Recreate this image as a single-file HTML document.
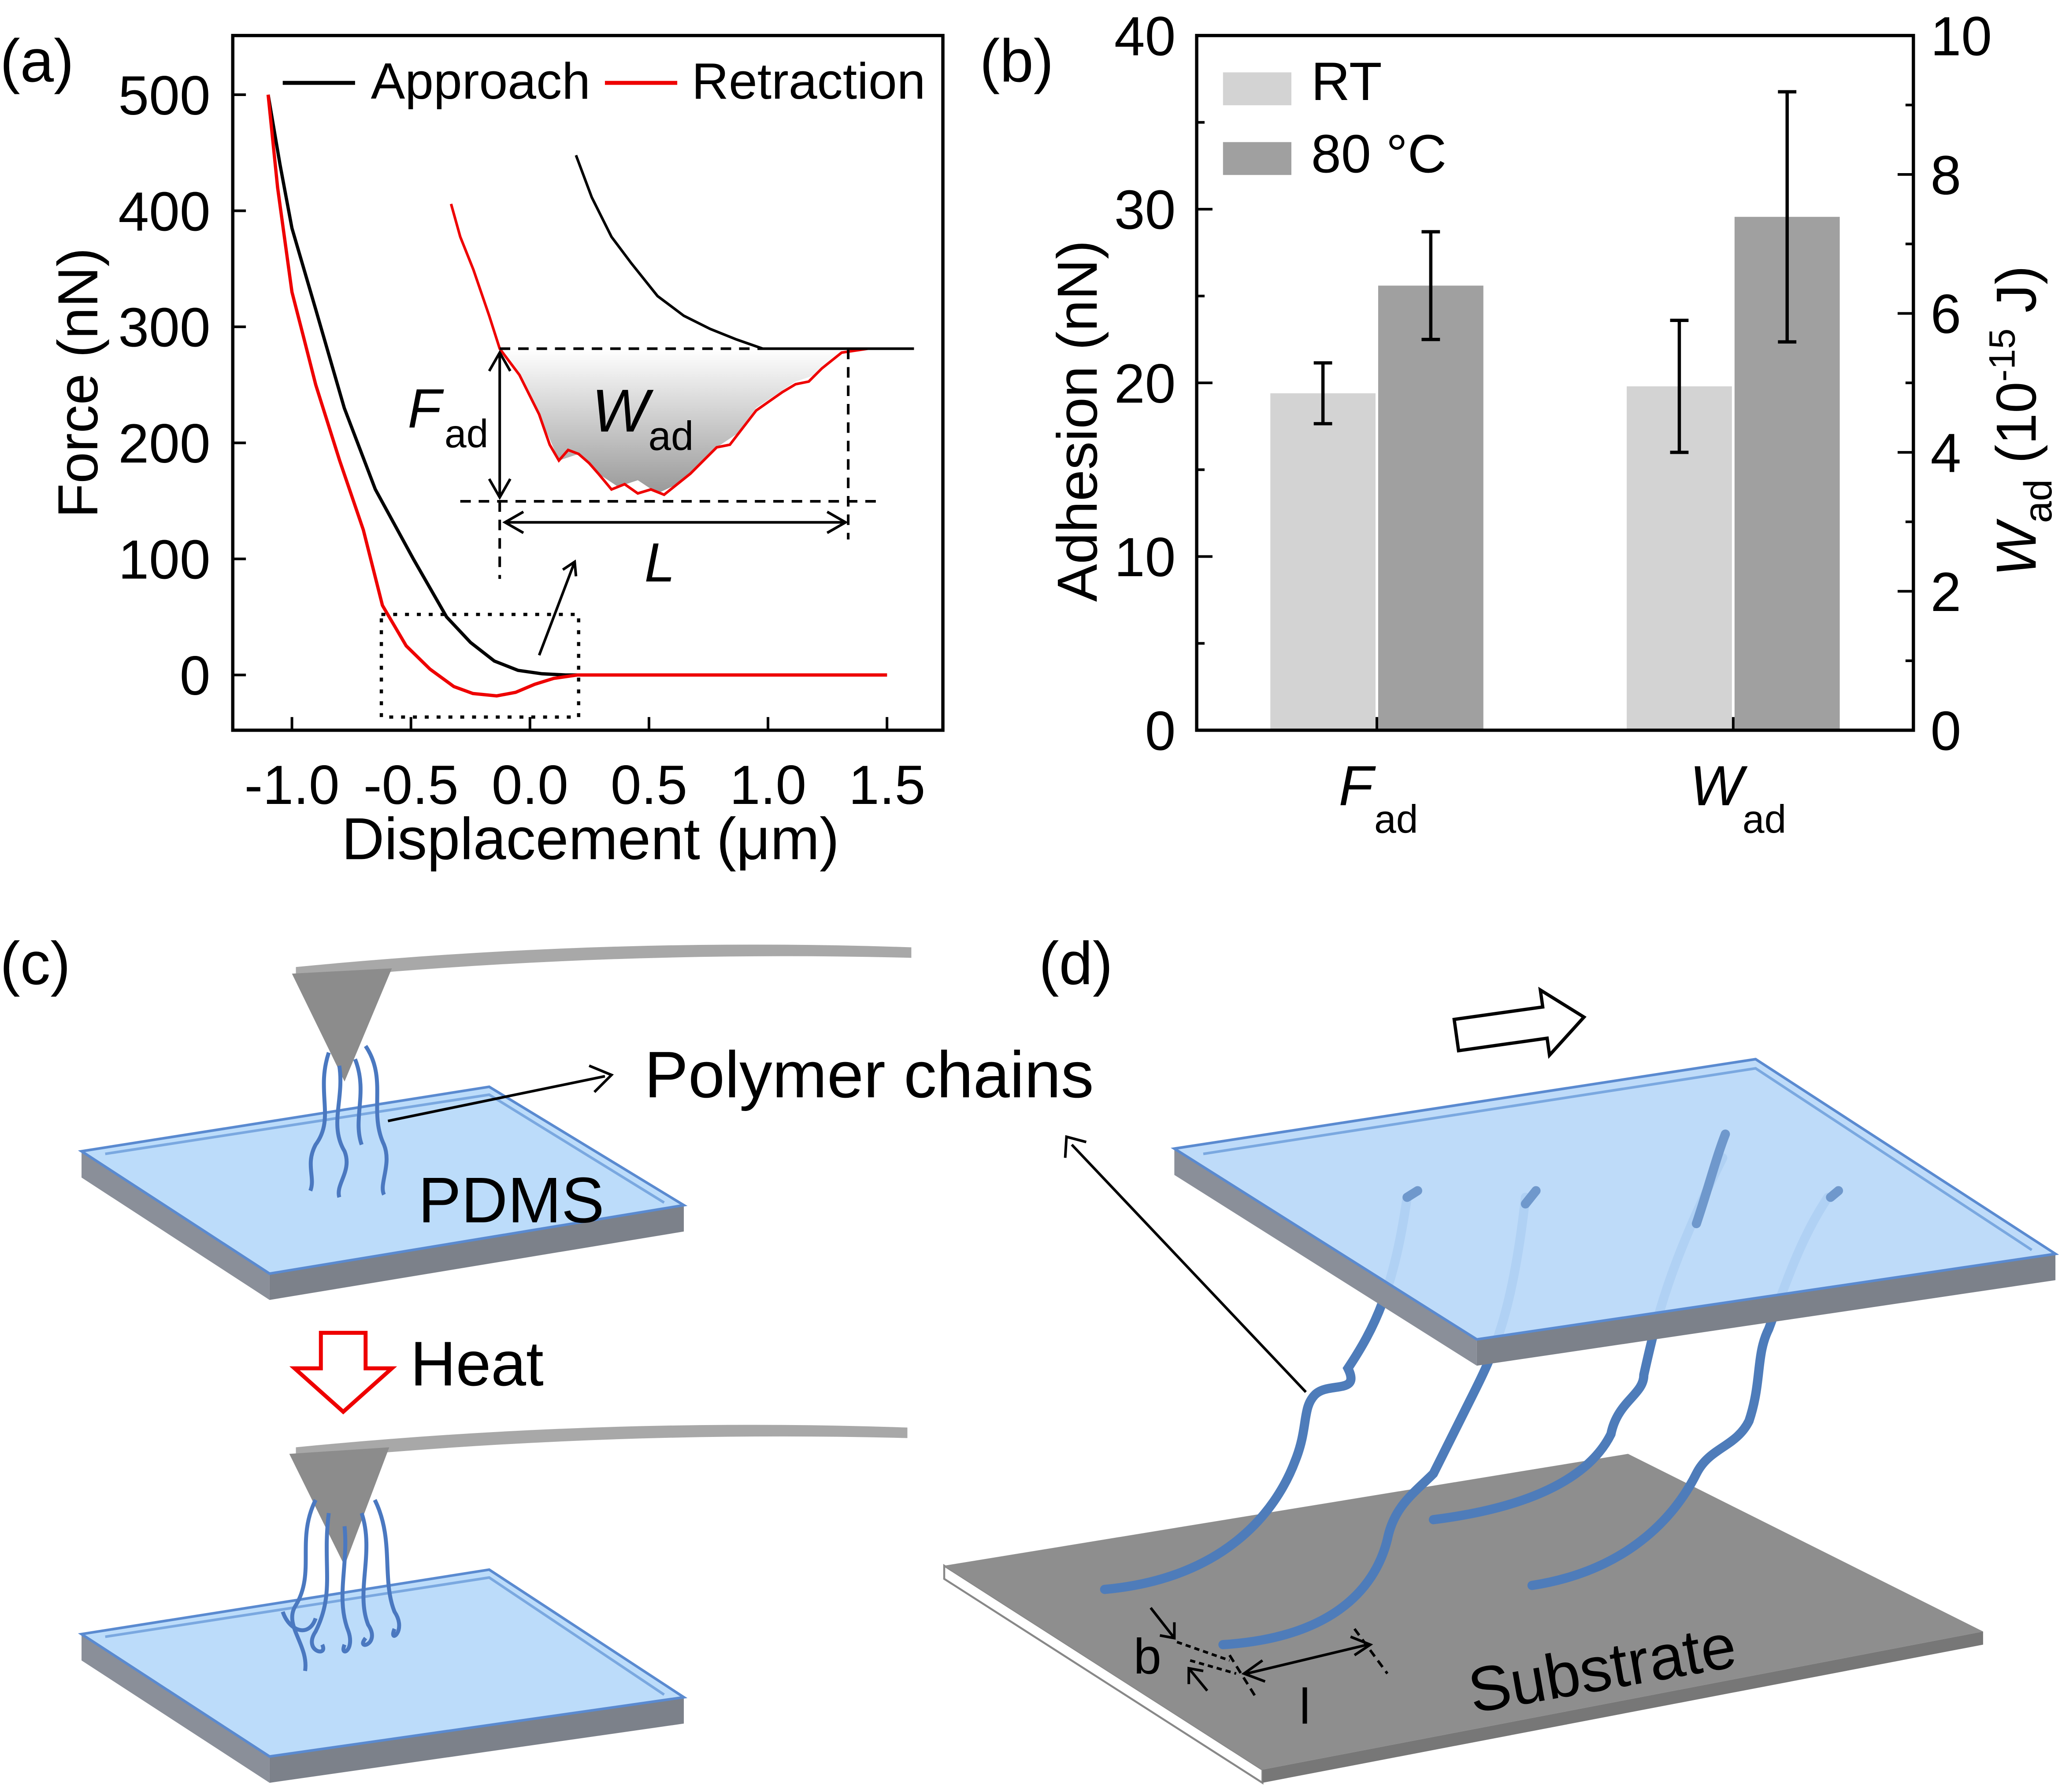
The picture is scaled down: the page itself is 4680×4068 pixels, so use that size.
<!DOCTYPE html>
<html><head><meta charset="utf-8"><style>
html,body{margin:0;padding:0;background:#fff;}
svg{display:block;}
text{font-family:"Liberation Sans",sans-serif;fill:#000;}
</style></head><body>
<svg id="fig" width="4680" height="4068" viewBox="0 0 1568 1362" preserveAspectRatio="none" xmlns="http://www.w3.org/2000/svg">
<rect width="1568" height="1362" fill="#fff"/>
<!-- Panel a -->
<g id="pa">
<text x="0" y="62" font-size="46">(a)</text>
<rect x="177" y="27" width="540" height="528" fill="none" stroke="#000" stroke-width="2.5"/>
<text transform="translate(74,291) rotate(-90)" font-size="43" text-anchor="middle">Force (nN)</text>
<text x="449" y="653" font-size="45" text-anchor="middle">Displacement (μm)</text>
<g id="axa"></g>
<path id="appr" fill="none" stroke="#000" stroke-width="2.5"/>
<path id="retr" fill="none" stroke="#e00" stroke-width="2.5"/>
<line x1="215" y1="63" x2="270" y2="63" stroke="#000" stroke-width="3"/>
<text x="282" y="75" font-size="39">Approach</text>
<line x1="460" y1="63" x2="515" y2="63" stroke="#e00" stroke-width="3"/>
<text x="526" y="75" font-size="39">Retraction</text>
<rect x="290" y="467" width="150" height="78" fill="none" stroke="#000" stroke-width="2.5" stroke-dasharray="3,6"/>
<line x1="410" y1="498" x2="437" y2="427" stroke="#000" stroke-width="2"/>
<path d="M428,433 L437,427 L438,438" fill="none" stroke="#000" stroke-width="2"/>
<defs><linearGradient id="wg" x1="0" y1="0" x2="0" y2="1"><stop offset="0" stop-color="#fff"/><stop offset="1" stop-color="#999"/></linearGradient></defs>
<path d="M380,265 L395,285 L410,315 L425,350 L440,345 L455,360 L470,370 L485,365 L500,375 L515,368 L530,355 L545,340 L560,330 L575,310 L590,300 L605,290 L620,285 L635,270 L645,265 Z" fill="url(#wg)"/>
<path d="M343,155 L350,180 L360,205 L372,240 L380,265 L395,285 L410,315 L418,338 L425,350 L432,342 L440,345 L448,352 L455,360 L465,372 L475,368 L485,375 L495,372 L505,376 L515,368 L525,360 L535,350 L545,340 L555,338 L565,325 L575,312 L585,305 L595,298 L605,292 L615,290 L625,280 L640,268 L660,265 L695,265" fill="none" stroke="#e00" stroke-width="2"/>
<path d="M438,118 L450,150 L465,180 L480,200 L500,225 L520,240 L540,250 L560,258 L580,265 L695,265" fill="none" stroke="#000" stroke-width="2"/>
<line x1="380" y1="265" x2="645" y2="265" stroke="#000" stroke-width="2" stroke-dasharray="8,6"/>
<line x1="350" y1="381" x2="668" y2="381" stroke="#000" stroke-width="2" stroke-dasharray="8,6"/>
<line x1="645" y1="265" x2="645" y2="410" stroke="#000" stroke-width="2" stroke-dasharray="8,6"/>
<line x1="380" y1="381" x2="380" y2="440" stroke="#000" stroke-width="2" stroke-dasharray="8,6"/>
<line x1="380" y1="270" x2="380" y2="376" stroke="#000" stroke-width="2"/>
<path d="M372,282 L380,268 L388,282 M372,364 L380,378 L388,364" fill="none" stroke="#000" stroke-width="2"/>
<line x1="385" y1="397" x2="642" y2="397" stroke="#000" stroke-width="2"/>
<path d="M398,389 L384,397 L398,405 M629,389 L643,397 L629,405" fill="none" stroke="#000" stroke-width="2"/>
<text x="310" y="325" font-size="42" font-style="italic">F</text><text x="338" y="340" font-size="30">ad</text>
<text x="450" y="328" font-size="46" font-style="italic">W</text><text x="493" y="342" font-size="31">ad</text>
<text x="490" y="442" font-size="42" font-style="italic">L</text>
</g>
<!-- Panel b -->
<g id="pb">
<text x="745" y="62" font-size="46">(b)</text>
<g id="bars"></g>
<g id="axb"></g>
<rect x="910" y="27" width="545" height="528" fill="none" stroke="#000" stroke-width="2.5"/>
<text transform="translate(834,320) rotate(-90)" font-size="43" text-anchor="middle">Adhesion (nN)</text>
<text transform="translate(1548,320) rotate(-90)" font-size="43" text-anchor="middle"><tspan font-style="italic">W</tspan><tspan font-size="30" dy="12">ad</tspan><tspan dy="-12"> (10</tspan><tspan font-size="28" dy="-16">-15</tspan><tspan dy="16"> J)</tspan></text>
<rect x="930" y="55" width="52" height="25" fill="#d3d3d3"/>
<text x="997" y="76" font-size="41">RT</text>
<rect x="930" y="108" width="52" height="25" fill="#a0a0a0"/>
<text x="997" y="131" font-size="41">80 °C</text>
<text x="1018" y="612" font-size="43" font-style="italic">F</text><text x="1045" y="633" font-size="30">ad</text>
<text x="1285" y="612" font-size="43" font-style="italic">W</text><text x="1325" y="633" font-size="30">ad</text>
</g>
<!-- Panel c -->
<g>
<text x="0" y="748" font-size="46">(c)</text>
<g>
<polygon points="62,875 205,968 205,988 62,895" fill="#8a8f99"/>
<polygon points="205,968 520,916 520,936 205,988" fill="#7c818a"/>
<polygon points="62,875 372,826 520,916 205,968" fill="#bcdcfa" stroke="#5a8ad0" stroke-width="2"/>
<polyline points="80,877 372,832 505,914" fill="none" stroke="#7aa8e0" stroke-width="2"/>
</g>
<g>
<polygon points="62,1242 205,1335 205,1355 62,1262" fill="#8a8f99"/>
<polygon points="205,1335 520,1290 520,1310 205,1355" fill="#7c818a"/>
<polygon points="62,1242 372,1193 520,1290 205,1335" fill="#bcdcfa" stroke="#5a8ad0" stroke-width="2"/>
<polyline points="80,1244 372,1199 505,1288" fill="none" stroke="#7aa8e0" stroke-width="2"/>
</g>
<path d="M225,735 Q460,712 693,720 L693,728 Q460,722 225,745 Z" fill="#a8a8a8"/>
<polygon points="222,740 298,736 262,822" fill="#8c8c8c"/>
<path d="M225,1100 Q460,1077 690,1085 L690,1093 Q460,1087 225,1110 Z" fill="#a8a8a8"/>
<polygon points="220,1105 296,1100 262,1190" fill="#8c8c8c"/>
<g fill="none" stroke="#4a78c0" stroke-width="3">
<path d="M250,800 C240,830 255,850 240,870 C232,885 240,895 236,905"/>
<path d="M258,810 C262,835 250,855 262,875 C268,890 255,900 258,910"/>
<path d="M270,805 C280,830 268,850 275,870"/>
<path d="M278,795 C295,820 280,845 292,870 C298,885 288,900 292,908"/>
</g>
<g fill="none" stroke="#4a78c0" stroke-width="3">
<path d="M240,1140 C225,1170 240,1195 225,1220 C215,1235 235,1250 232,1270"/>
<path d="M250,1150 C245,1190 255,1210 240,1240 C230,1255 250,1260 245,1250"/>
<path d="M262,1160 C265,1190 255,1215 265,1240 C270,1255 258,1260 262,1250"/>
<path d="M275,1150 C285,1180 270,1210 280,1235 C290,1250 270,1255 278,1245"/>
<path d="M285,1140 C300,1170 290,1200 300,1225 C310,1240 295,1250 300,1238"/>
<path d="M215,1225 C220,1240 235,1245 240,1230"/>
</g>
<line x1="295" y1="852" x2="460" y2="818" stroke="#000" stroke-width="2"/>
<path d="M448,810 L465,817 L452,830" fill="none" stroke="#000" stroke-width="2"/>
<text x="490" y="834" font-size="50">Polymer chains</text>
<text x="318" y="929" font-size="49">PDMS</text>
<polygon points="244,1013 278,1013 278,1040 298,1040 261,1073 224,1040 244,1040" fill="#fff" stroke="#e00" stroke-width="3"/>
<text x="312" y="1053" font-size="48">Heat</text>
</g>
<!-- Panel d -->
<g>
<text x="790" y="748" font-size="46">(d)</text>
<g>
<polygon points="718,1190 960,1345 960,1355 718,1200" fill="#fff" stroke="#888" stroke-width="1.5"/>
<polygon points="960,1345 1508,1240 1508,1250 960,1355" fill="#777"/>
<polygon points="718,1190 1238,1105 1508,1240 960,1345" fill="#8e8e8e"/>
</g>
<g fill="none" stroke="#4e7cba" stroke-width="7" stroke-linecap="round">
<path d="M840,1208 C930,1200 970,1150 985,1110 C995,1085 990,1070 1000,1060 C1010,1050 1035,1060 1025,1040 C1045,1010 1060,980 1070,910"/>
<path d="M930,1250 C1010,1245 1045,1210 1055,1170 C1060,1145 1075,1135 1090,1120 C1100,1100 1110,1080 1120,1060 C1135,1030 1150,1000 1160,910"/>
<path d="M1090,1155 C1170,1145 1210,1120 1225,1090 C1230,1065 1250,1060 1250,1045 C1260,1000 1270,960 1310,880"/>
<path d="M1165,1205 C1230,1195 1270,1160 1290,1120 C1300,1100 1320,1100 1330,1080 C1340,1050 1335,1030 1345,1010 C1360,970 1370,940 1390,910"/>
</g>
<g>
<polygon points="893,873 1123,1018 1123,1038 893,893" fill="#8a8f99"/>
<polygon points="1123,1018 1563,953 1563,973 1123,1038" fill="#7c818a"/>
<polygon points="893,873 1335,805 1563,953 1123,1018" fill="#b8d8f8" fill-opacity="0.92" stroke="#5a8ad0" stroke-width="2"/>
<polyline points="915,877 1335,812 1545,950" fill="none" stroke="#7aa8e0" stroke-width="2"/>
</g>
<g fill="none" stroke="#6f98cc" stroke-width="7" stroke-linecap="round">
<path d="M1070,910 L1078,905"/><path d="M1160,915 L1168,905"/><path d="M1290,930 C1300,900 1305,880 1312,862"/><path d="M1392,910 L1398,905"/>
</g>
<polygon points="1107,768 1175,768 1175,755 1205,780 1175,805 1175,792 1107,792" fill="#fff" stroke="#000" stroke-width="2.5" transform="rotate(-8 1155 780)"/>
<line x1="993" y1="1058" x2="815" y2="870" stroke="#000" stroke-width="2"/>
<path d="M810,880 L811,864 L826,868" fill="none" stroke="#000" stroke-width="2"/>
<text x="1120" y="1302" font-size="48" transform="rotate(-10 1120 1302)">Substrate</text>
<text x="862" y="1272" font-size="38">b</text>
<text x="988" y="1310" font-size="38">l</text>
<g stroke="#000" stroke-width="2" fill="none">
<path d="M895,1248 L935,1262 M905,1262 L940,1272" stroke-dasharray="4,3"/>
<path d="M935,1258 L955,1290 M1030,1238 L1055,1272" stroke-dasharray="6,4"/>
<line x1="948" y1="1272" x2="1040" y2="1250"/>
<path d="M960,1262 L946,1272 L962,1278 M1027,1244 L1042,1250 L1030,1258"/>
<path d="M875,1222 L893,1245 M882,1243 L893,1245 L893,1233"/>
<path d="M918,1285 L904,1268 M904,1280 L904,1268 L915,1270"/>
</g>
</g>
</svg>
<script>
// Panel a data
var apprX=[-1.1,-1.05,-1.0,-0.9,-0.78,-0.65,-0.49,-0.35,-0.25,-0.15,-0.05,0.05,0.15,0.5,1.0,1.5];
var apprY=[500,440,385,315,230,160,100,50,28,12,4,1,0,0,0,0];
var retrX=[-1.1,-1.06,-1.0,-0.95,-0.9,-0.8,-0.7,-0.62,-0.52,-0.42,-0.32,-0.24,-0.14,-0.06,0.02,0.1,0.2,0.5,1.0,1.5];
var retrY=[500,420,330,290,250,185,125,60,25,5,-10,-16,-18,-15,-8,-3,0,0,0,0];
var xTicksA=[-1.0,-0.5,0.0,0.5,1.0,1.5];
var xTickLabelsA=["-1.0","-0.5","0.0","0.5","1.0","1.5"];
var yTicksA=[0,100,200,300,400,500];
// Panel b data
var cats=["Fad","Wad"];
var rtVals=[19.4,4.95];
var rtErr=[1.75,0.95];
var hotVals=[25.6,7.39];
var hotErr=[3.1,1.8];
var yTicksB=[0,10,20,30,40];
var y2TicksB=[0,2,4,6,8,10];
var NS="http://www.w3.org/2000/svg";
function xa(v){return 403+v*181;}
function ya(v){return 513-v*0.882;}
function mk(tag,at,parent){var e=document.createElementNS(NS,tag);for(var k in at)e.setAttribute(k,at[k]);parent.appendChild(e);return e;}
function pth(X,Y){var d="";for(var i=0;i<X.length;i++)d+=(i?"L":"M")+xa(X[i]).toFixed(1)+","+ya(Y[i]).toFixed(1);return d;}
document.getElementById("appr").setAttribute("d",pth(apprX,apprY));
document.getElementById("retr").setAttribute("d",pth(retrX,retrY));
var axa=document.getElementById("axa");
xTicksA.forEach(function(v,i){
 var l=mk("line",{x1:xa(v),x2:xa(v),y1:555,y2:545,stroke:"#000","stroke-width":2},axa);
 
 
 var t=mk("text",{x:xa(v),y:611,"font-size":42,"text-anchor":"middle"},axa);t.textContent=xTickLabelsA[i];
 
 
});
yTicksA.forEach(function(v){
 var l=mk("line",{x1:177,x2:187,y1:ya(v),y2:ya(v),stroke:"#000","stroke-width":2},axa);
 
 
 var t=mk("text",{x:160,y:ya(v)+15,"font-size":42,"text-anchor":"end"},axa);t.textContent=v;
 
 
});
function yb(v){return 555-v*13.2;}
function yb2(v){return 555-v*52.8;}
var bars=document.getElementById("bars"),axb=document.getElementById("axb");
var centers=[1047,1318];
cats.forEach(function(c,i){
 var sc=(i==0)?yb:yb2;
 var x0=centers[i];
 var r1=mk("rect",{x:x0-81,y:sc(rtVals[i]),width:80,height:555-sc(rtVals[i]),fill:"#d3d3d3"},bars);
 
 
 var r2=mk("rect",{x:x0+1,y:sc(hotVals[i]),width:80,height:555-sc(hotVals[i]),fill:"#a0a0a0"},bars);
 
 
 [[x0-41,rtVals[i],rtErr[i]],[x0+41,hotVals[i],hotErr[i]]].forEach(function(e){
  var g=mk("path",{d:"M"+(e[0]-7)+","+sc(e[1]+e[2])+"h14M"+e[0]+","+sc(e[1]+e[2])+"V"+sc(e[1]-e[2])+"M"+(e[0]-7)+","+sc(e[1]-e[2])+"h14",stroke:"#000","stroke-width":2.5,fill:"none"},bars);
  
  
 });
 var l=mk("line",{x1:x0,x2:x0,y1:555,y2:545,stroke:"#000","stroke-width":2},axb);
 
 
});
yTicksB.forEach(function(v){
 var l=mk("line",{x1:910,x2:922,y1:yb(v),y2:yb(v),stroke:"#000","stroke-width":2},axb);
 
 
 if(v<40)mk("line",{x1:910,x2:916,y1:yb(v+5),y2:yb(v+5),stroke:"#000","stroke-width":2},axb);
 var t=mk("text",{x:894,y:yb(v)+15,"font-size":42,"text-anchor":"end"},axb);t.textContent=v;
 
 
});
y2TicksB.forEach(function(v){
 var l=mk("line",{x1:1443,x2:1455,y1:yb2(v),y2:yb2(v),stroke:"#000","stroke-width":2},axb);
 
 
 if(v<10)mk("line",{x1:1449,x2:1455,y1:yb2(v+1),y2:yb2(v+1),stroke:"#000","stroke-width":2},axb);
 var t=mk("text",{x:1468,y:yb2(v)+15,"font-size":42},axb);t.textContent=v;
 
 
});
</script>
</body></html>
